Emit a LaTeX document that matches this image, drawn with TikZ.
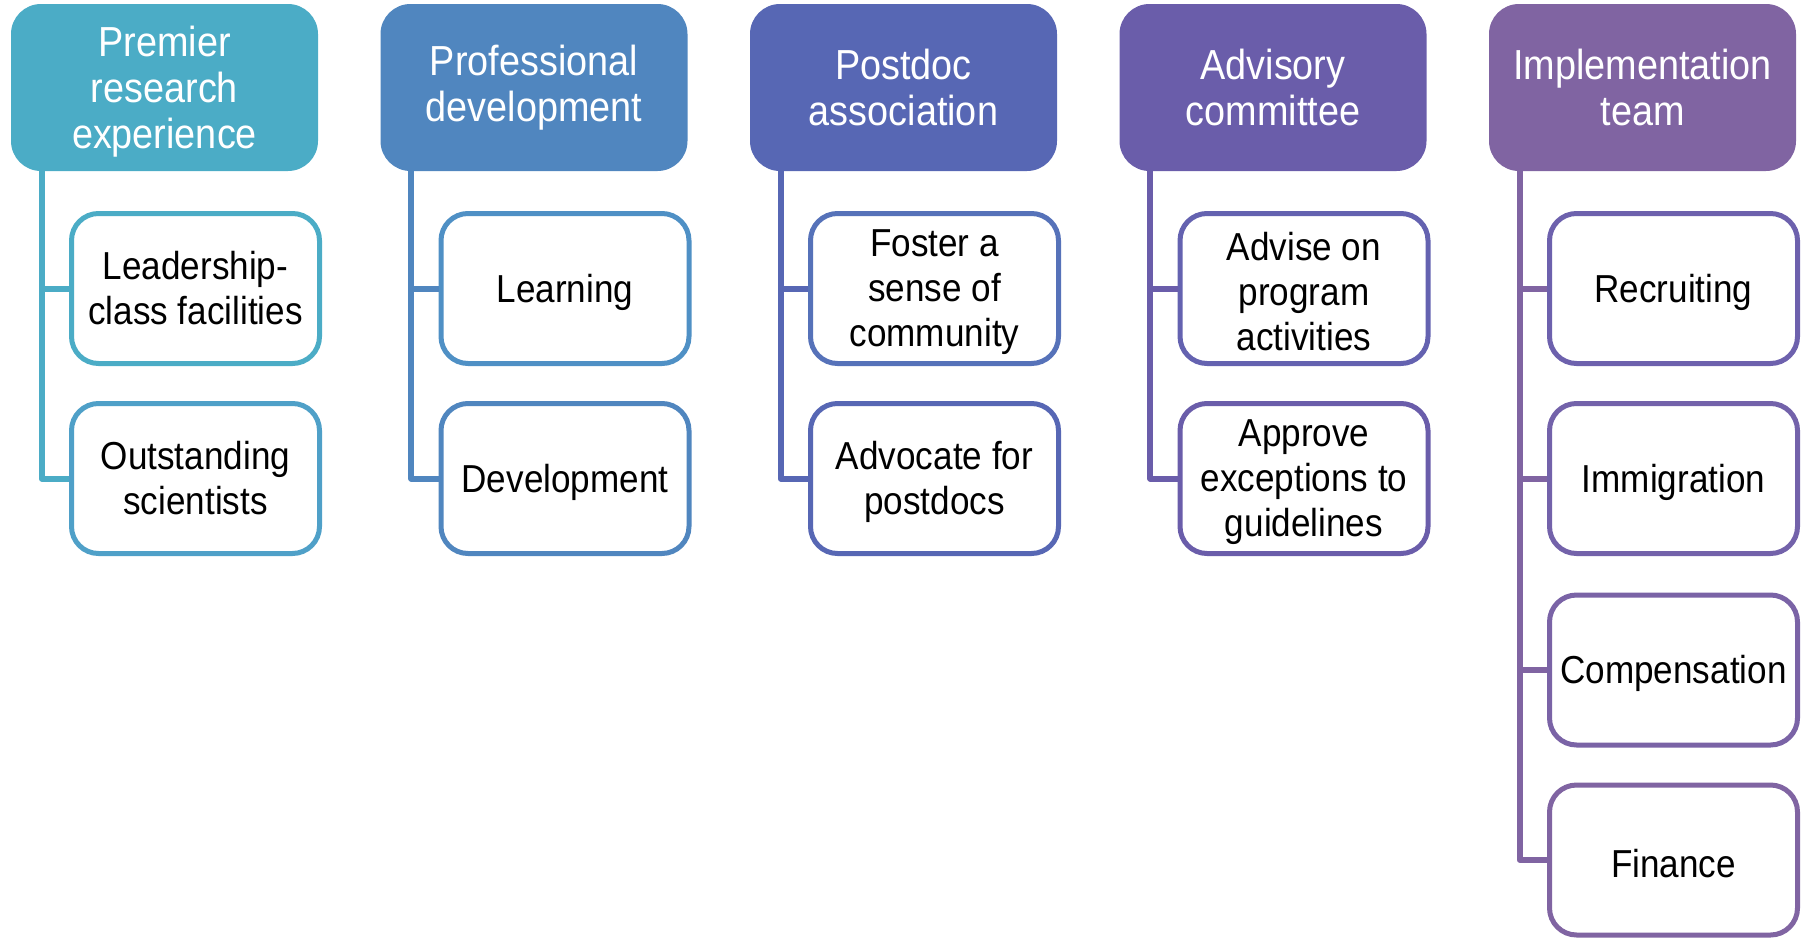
\documentclass[tikz,border=0pt]{standalone}
\usepackage{fontspec}
\setmainfont[FakeStretch=0.9]{Liberation Sans}
\usetikzlibrary{calc}
\definecolor{colA}{HTML}{4BACC6}
\definecolor{colB}{HTML}{5086BF}
\definecolor{colC}{HTML}{5767B4}
\definecolor{colD}{HTML}{6A5DAA}
\definecolor{colE}{HTML}{8064A2}
\definecolor{bA1}{HTML}{4BACC6}
\definecolor{bA2}{HTML}{4FA0C8}
\definecolor{bB1}{HTML}{4F90C5}
\definecolor{bB2}{HTML}{5086BF}
\definecolor{bC1}{HTML}{5672B9}
\definecolor{bC2}{HTML}{5767B4}
\definecolor{bD1}{HTML}{6462B0}
\definecolor{bD2}{HTML}{6A5DAA}
\definecolor{bE1}{HTML}{6D61AD}
\definecolor{bE2}{HTML}{7362AA}
\definecolor{bE3}{HTML}{7A63A6}
\definecolor{bE4}{HTML}{8064A2}
\tikzset{
  header/.style={fill=#1, draw=none, rounded corners=30pt, minimum width=307pt, minimum height=167pt, inner sep=0pt},
  htext/.style={text=white, align=center, inner sep=0pt, font=\fontsize{42}{46}\selectfont},
  child/.style={fill=white, draw=#1, line width=5pt, rounded corners=27pt, minimum width=248pt, minimum height=150pt, inner sep=0pt},
  ctext/.style={text=black, align=center, inner sep=0pt, font=\fontsize{39}{45}\selectfont},
  conn/.style={draw=#1, line width=6pt, line join=round}
}
\begin{document}
\begin{tikzpicture}[x=1pt,y=-1pt]
\useasboundingbox (0,0) rectangle (1808,938);
% column 1
\node[header=colA, label={[htext,yshift=-4pt]center:Premier\\research\\experience}] (h1) at (164.5,87.5) {};
\node[child=bA1, label={[ctext]center:Leadership-\\class facilities}] (c11) at (195.5,288.5) {};
\node[child=bA2, label={[ctext]center:Outstanding\\scientists}] (c12) at (195.5,478.5) {};
\coordinate (s1) at ([xshift=31pt]h1.south west);
\draw[conn=colA] (s1) |- (c12.west);
\draw[conn=colA] (c11.west) -- (c11.west -| s1);
% column 2
\node[header=colB, label={[htext]center:Professional\\development}] (h2) at (534,87.5) {};
\node[child=bB1, label={[ctext,yshift=-3.5pt]center:Learning}] (c21) at (565,288.5) {};
\node[child=bB2, label={[ctext,yshift=-3.5pt]center:Development}] (c22) at (565,478.5) {};
\coordinate (s2) at ([xshift=31pt]h2.south west);
\draw[conn=colB] (s2) |- (c22.west);
\draw[conn=colB] (c21.west) -- (c21.west -| s2);
% column 3
\node[header=colC, label={[htext]center:Postdoc\\association}] (h3) at (903.5,87.5) {};
\node[child=bC1, label={[ctext,yshift=-3.5pt]center:Foster a\\sense of\\community}] (c31) at (934.5,288.5) {};
\node[child=bC2, label={[ctext,yshift=-3.5pt]center:Advocate for\\postdocs}] (c32) at (934.5,478.5) {};
\coordinate (s3) at ([xshift=31pt]h3.south west);
\draw[conn=colC] (s3) |- (c32.west);
\draw[conn=colC] (c31.west) -- (c31.west -| s3);
% column 4
\node[header=colD, label={[htext]center:Advisory\\committee}] (h4) at (1273,87.5) {};
\node[child=bD1, label={[ctext,yshift=-3.5pt]center:Advise on\\program\\activities}] (c41) at (1304,288.5) {};
\node[child=bD2, label={[ctext,yshift=-3.5pt]center:Approve\\exceptions to\\guidelines}] (c42) at (1304,478.5) {};
\coordinate (s4) at ([xshift=31pt]h4.south west);
\draw[conn=colD] (s4) |- (c42.west);
\draw[conn=colD] (c41.west) -- (c41.west -| s4);
% column 5
\node[header=colE, label={[htext]center:Implementation\\team}] (h5) at (1642.5,87.5) {};
\node[child=bE1, label={[ctext,yshift=-3.5pt]center:Recruiting}] (c51) at (1673.5,288.5) {};
\node[child=bE2, label={[ctext,yshift=-3.5pt]center:Immigration}] (c52) at (1673.5,478.5) {};
\node[child=bE3, label={[ctext,yshift=-3.5pt]center:Compensation}] (c53) at (1673.5,670) {};
\node[child=bE4, label={[ctext,yshift=-3.5pt]center:Finance}] (c54) at (1673.5,860) {};
\coordinate (s5) at ([xshift=31pt]h5.south west);
\draw[conn=colE] (s5) |- (c54.west);
\draw[conn=colE] (c51.west) -- (c51.west -| s5);
\draw[conn=colE] (c52.west) -- (c52.west -| s5);
\draw[conn=colE] (c53.west) -- (c53.west -| s5);
\end{tikzpicture}
\end{document}
